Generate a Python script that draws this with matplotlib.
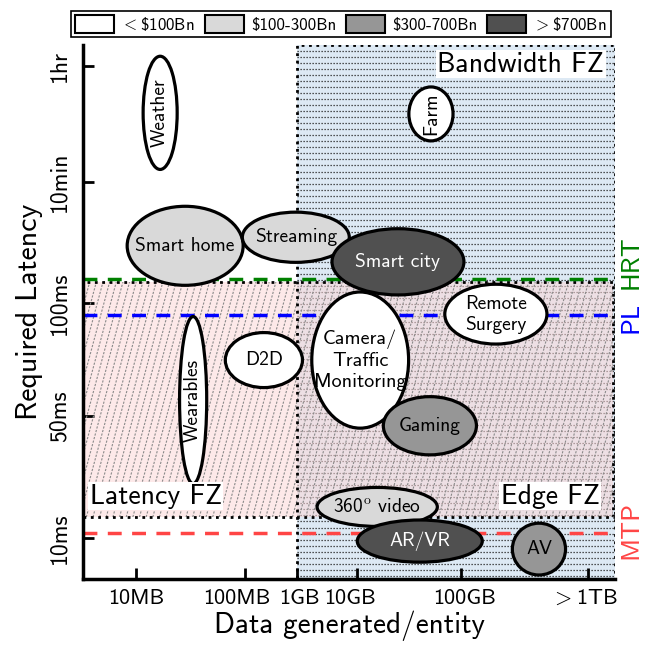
import numpy as np
import matplotlib.pyplot as plt
import matplotlib.transforms as mtransforms
from matplotlib.patches import Ellipse, Rectangle, Patch

plt.rcParams['font.family'] = ['cmss10', 'DejaVu Sans']
plt.rcParams['mathtext.fontset'] = 'cm'
plt.rcParams['axes.unicode_minus'] = False

# axis categories (positions on an ordinal scale)
x_ticks = [1.0, 3.05, 4.02, 5.15, 7.1, 9.5]
x_labels = ['10MB', '100MB', '1GB', '10GB', '100GB', r'${>}$1TB']
y_ticks = [0.77, 3.05, 5.17, 7.43, 9.61]
y_labels = ['10ms', '50ms', '100ms', '10min', '1hr']

# market size tiers
tier_labels = [r'${<}$\$100Bn', '\\$100-300Bn', '\\$300-700Bn', r'${>}$\$700Bn']
tier_colors = ['white', '#d9d9d9', '#969696', '#505050']

# applications: centre, extent and market tier
app_names = ['Weather', 'Farm', 'Smart home', 'Streaming', 'Smart city',
             'Remote\nSurgery', 'D2D', 'Camera/\nTraffic\nMonitoring',
             'Wearables', 'Gaming', r'360$^{\rm o}$ video', 'AR/VR', 'AV']
app_x = [1.45, 6.54, 1.92, 4.00, 5.92, 7.76, 3.40, 5.21, 2.07, 6.52, 5.53, 6.33, 8.57]
app_y = [8.73, 8.71, 6.24, 6.40, 5.94, 4.96, 4.10, 4.10, 3.35, 2.87, 1.35, 0.71, 0.56]
app_w = [0.64, 0.83, 2.18, 2.01, 2.48, 1.92, 1.45, 1.82, 0.51, 1.75, 2.26, 2.35, 1.00]
app_h = [2.12, 1.01, 1.48, 0.94, 1.24, 1.12, 1.03, 2.55, 3.13, 1.09, 0.73, 0.79, 0.97]
app_tier = [0, 0, 1, 1, 3, 0, 0, 0, 0, 2, 1, 3, 2]
app_vertical = ['Weather', 'Farm', 'Wearables']

# latency thresholds
thr_names = ['HRT', 'PL', 'MTP']
thr_y = [5.62, 4.94, 0.86]
thr_colors = ['green', 'blue', '#ff4545']

# feasibility zones: x0, x1, y0, y1
bw_zone = [4.02, 10.0, 0.0, 10.0]
lat_zone = [0.0, 9.97, 1.16, 5.56]

fig = plt.figure(figsize=(6.5, 6.46), dpi=100)
ax = fig.add_axes([0.1277, 0.1037, 0.8185, 0.8266])
ax.set_xlim(0, 10)
ax.set_ylim(0, 10)

# bandwidth feasibility zone: light blue with dotted horizontal lines
x0, x1, y0, y1 = bw_zone
ax.add_patch(Rectangle((x0, y0), x1 - x0, y1 - y0, facecolor='#dde9f4',
                       linewidth=0, zorder=1))
ax.hlines(np.arange(y0 + 0.06, y1, 0.113), x0, x1, colors='#222222',
          linestyles=(0, (1, 1.4)), linewidth=0.9, zorder=1.2)
ax.add_patch(Rectangle((x0, y0), x1 - x0, y1 - y0, fill=False,
                       edgecolor='black', linestyle=':', linewidth=2, zorder=2))

# latency feasibility zone: light pink with steep dashed hatching
x0, x1, y0, y1 = lat_zone
lat_rect = Rectangle((x0, y0), x1 - x0, y1 - y0, facecolor='#fcd8d8',
                     linewidth=0, alpha=0.55, zorder=1.5)
ax.add_patch(lat_rect)
slant = 0.27 * (y1 - y0)
for c in np.arange(x0 - slant, x1, 0.125):
    ln, = ax.plot([c, c + slant], [y0, y1], color='#8a8a8a',
                  linestyle=(0, (2, 1.3)), linewidth=0.8, zorder=1.6)
    ln.set_clip_path(lat_rect)
ax.add_patch(Rectangle((x0, y0), x1 - x0, y1 - y0, fill=False,
                       edgecolor='black', linestyle=':', linewidth=2, zorder=2))

# threshold lines
trans = mtransforms.blended_transform_factory(ax.transAxes, ax.transData)
label_shift = [0.32, -0.05, 0.06]
for name, y, c, s in zip(thr_names, thr_y, thr_colors, label_shift):
    ax.axhline(y, color=c, linestyle=(0, (4, 3)), linewidth=2.5, zorder=3)
    ax.text(1.03, y + s, name, transform=trans, rotation=90, color=c,
            fontsize=19, ha='center', va='center', clip_on=False)

# application ellipses
for i, name in enumerate(app_names):
    t = app_tier[i]
    ax.add_patch(Ellipse((app_x[i], app_y[i]), app_w[i], app_h[i],
                         facecolor=tier_colors[t], edgecolor='black',
                         linewidth=2.3, zorder=4 + i * 0.1))
    rot = 90 if name in app_vertical else 0
    fs = 14.5 if name.startswith('Camera') else 14
    ax.text(app_x[i], app_y[i], name, rotation=rot, ha='center', va='center',
            fontsize=fs, color='white' if t == 3 else 'black',
            linespacing=1.2, zorder=4.05 + i * 0.1)

# zone labels
box = dict(facecolor='white', edgecolor='none', pad=1.0)
ax.text(8.23, 9.64, 'Bandwidth FZ', fontsize=20, ha='center', va='center', bbox=box, zorder=6)
ax.text(1.37, 1.55, 'Latency FZ', fontsize=20, ha='center', va='center', bbox=box, zorder=6)
ax.text(8.78, 1.55, 'Edge FZ', fontsize=20, ha='center', va='center', bbox=box, zorder=6)

# axes styling
for side in ['top', 'right']:
    ax.spines[side].set_visible(False)
for side in ['left', 'bottom']:
    ax.spines[side].set_linewidth(2.5)
    ax.spines[side].set_zorder(7)
ax.set_xticks(x_ticks)
ax.set_xticklabels(x_labels)
ax.set_yticks(y_ticks)
ax.set_yticklabels(y_labels, rotation=90, va='center')
ax.tick_params(direction='in', length=8, width=2, labelsize=17)
ax.tick_params(axis='y', pad=9)
ax.tick_params(axis='x', pad=7, labelsize=16)

# nudge crowded x tick labels apart (in points)
for lbl, dx in zip(ax.get_xticklabels(), [0, -6, 1.5, -5, 3, -3]):
    lbl.set_transform(lbl.get_transform() +
                      mtransforms.ScaledTranslation(dx / 72, 0, fig.dpi_scale_trans))

ax.set_xlabel('Data generated/entity', fontsize=21, labelpad=2)
ax.set_ylabel('Required Latency', fontsize=21.5, labelpad=4)

handles = [Patch(facecolor=c, edgecolor='black', linewidth=1.5) for c in tier_colors]
leg = ax.legend(handles, tier_labels, loc='lower center', bbox_to_anchor=(0.485, 1.015),
                ncol=4, fancybox=False, edgecolor='black', framealpha=1, fontsize=12.2,
                handlelength=2.3, handleheight=1.2, handletextpad=0.4,
                columnspacing=0.6, borderpad=0.25, borderaxespad=0)
leg.get_frame().set_linewidth(1.2)

fig.savefig('out.png', dpi=100)
